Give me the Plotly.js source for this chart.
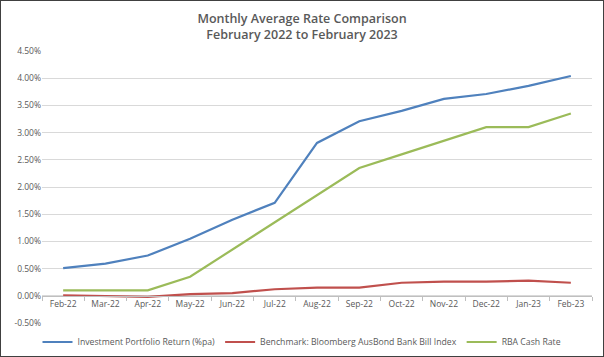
<!DOCTYPE html>
<html><head><meta charset="utf-8">
<script src="https://cdn.plot.ly/plotly-3.0.1.min.js"></script>
<style>
html,body{margin:0;padding:0;background:#fff;}
#wrap{position:relative;width:604px;height:357px;}
#chart{width:604px;height:357px;}
#frame{position:absolute;left:0;top:0;width:602px;height:355px;border:1px solid #404040;pointer-events:none;}
</style></head>
<body><div id="wrap"><div id="chart"></div><div id="frame"></div></div>
<script>
var months = ["Feb-22","Mar-22","Apr-22","May-22","Jun-22","Jul-22","Aug-22","Sep-22","Oct-22","Nov-22","Dec-22","Jan-23","Feb-23"];
var portfolio = [0.51,0.59,0.74,1.05,1.40,1.71,2.81,3.21,3.40,3.62,3.71,3.86,4.04];
var benchmark = [0.01,0.00,-0.02,0.03,0.05,0.12,0.15,0.15,0.24,0.26,0.26,0.28,0.24];
var rba = [0.10,0.10,0.10,0.35,0.85,1.35,1.85,2.35,2.60,2.85,3.10,3.10,3.35];
var yTicks = [-0.5,0,0.5,1,1.5,2,2.5,3,3.5,4,4.5];
var yTickText = yTicks.map(function(v){return v.toFixed(2)+"%";});
var names = ["Investment Portfolio Return (%pa)","Benchmark: Bloomberg AusBond Bank Bill Index","RBA Cash Rate"];
var colors = ["#4F81BD","#C0504D","#9BBB59"];
var series = [portfolio, benchmark, rba];
var font = "Open Sans, Liberation Sans, sans-serif";
var data = series.map(function(s,i){
  return {x: months, y: s, type:"scatter", mode:"lines", name: names[i],
    line:{color: colors[i], width: 2.2}, hoverinfo:"skip"};
});
var layout = {
  width:604, height:357,
  margin:{l:42, r:12, t:51, b:34, autoexpand:false},
  paper_bgcolor:"#fff", plot_bgcolor:"#fff",
  title:{text:"Monthly Average Rate Comparison<br>February 2022 to February 2023",
    font:{family:font, size:12.5, color:"#595959", weight:600},
    x:0.5, xanchor:"center", y:0.935, yanchor:"middle", yref:"container", automargin:false},
  xaxis:{type:"category", range:[-0.5,12.5], anchor:"free", position:0.1,
    showline:true, linecolor:"#BFBFBF", linewidth:1, showgrid:false,
    ticks:"outside", ticklen:4, tickcolor:"#BFBFBF", tickson:"boundaries",
    tickfont:{family:font, size:8.5, color:"#595959"}, zeroline:false, fixedrange:true, automargin:false},
  yaxis:{range:[-0.5,4.5], tickvals:yTicks, ticktext:yTickText,
    showgrid:true, gridcolor:"#D9D9D9", gridwidth:1, zeroline:false, showline:false,
    tickfont:{family:font, size:8.5, color:"#595959"}, ticks:"", fixedrange:true, automargin:false},
  showlegend:true,
  legend:{orientation:"h", x:0.5, xanchor:"center", xref:"container", y:0.042, yanchor:"middle", yref:"container",
    font:{family:font, size:8.7, color:"#595959"}, itemwidth:30, tracegroupgap:0},
  hovermode:false
};
Plotly.newPlot("chart", data, layout, {staticPlot:true, displayModeBar:false});
</script></body></html>
